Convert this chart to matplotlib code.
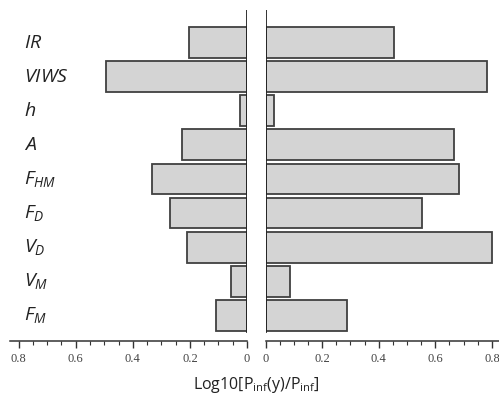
import matplotlib
matplotlib.use("Agg")
import matplotlib.pyplot as plt
import matplotlib.transforms as mtransforms
from matplotlib.ticker import MultipleLocator, FuncFormatter

plt.rcParams['mathtext.fontset'] = 'custom'
plt.rcParams['mathtext.it'] = 'Open Sans:italic'
plt.rcParams['mathtext.rm'] = 'Open Sans'

labels = [r'$IR$', r'$VIWS$', r'$h$', r'$A$', r'$F_{HM}$', r'$F_{D}$', r'$V_{D}$', r'$V_{M}$', r'$F_{M}$']
left_vals = [0.203, 0.495, 0.025, 0.227, 0.331, 0.268, 0.209, 0.056, 0.110]
right_vals = [0.455, 0.784, 0.030, 0.667, 0.684, 0.554, 0.800, 0.086, 0.288]
xlabel = r'Log10[P$_{\mathrm{inf}}$(y)/P$_{\mathrm{inf}}$]'

W, H = 499, 403
fig = plt.figure(figsize=(W/100, H/100), dpi=100)

bot = 1 - 341/H
top = 1 - 10/H
axL = fig.add_axes([10/W, bot, 237/W, top - bot])
axR = fig.add_axes([265.5/W, bot, (499-265.5)/W, top - bot])

ypos = list(range(len(labels)))
fill = '#d4d4d4'
edge = '#404040'
for ax, vals in ((axL, left_vals), (axR, right_vals)):
    ax.barh(ypos, vals, height=0.9, color=fill, edgecolor=edge, linewidth=1.3, zorder=2)
    ax.set_ylim(8.75, -0.95)
    for s in ('top', 'left', 'right'):
        ax.spines[s].set_visible(False)
    ax.spines['bottom'].set_color('#333333')
    ax.spines['bottom'].set_linewidth(1.1)
    ax.set_yticks([])
    ax.xaxis.set_major_locator(MultipleLocator(0.2))
    ax.xaxis.set_minor_locator(MultipleLocator(0.05))
    ax.xaxis.set_major_formatter(FuncFormatter(lambda v, p: f"{v:.1f}" if abs(v) > 1e-9 else "0"))
    ax.tick_params(axis='x', which='major', direction='out', length=5, width=1, color='#333333',
                   labelsize=9, labelcolor='#444444', pad=4, labelfontfamily='Liberation Serif')
    ax.tick_params(axis='x', which='minor', direction='out', length=3, width=0.8, color='#333333')
    ax.axvline(0, ymin=(8.75-8.5)/(8.75+0.95), ymax=1.0, color='#222222', linewidth=1.3, zorder=3)
    ax.patch.set_alpha(0)

axL.set_xlim(0.83, 0)
axR.set_xlim(0, 0.825)

trans = mtransforms.blended_transform_factory(fig.transFigure, axL.transData)
for y, lab in zip(ypos, labels):
    fig.text(24/W, y, lab, transform=trans, ha='left', va='center', fontsize=14, color='#222222')

fig.text(256/W, 1 - 385/H, xlabel, ha='center', va='center', fontsize=11.5, color='#222222',
         family='Open Sans')

fig.savefig('out.png', dpi=100)
